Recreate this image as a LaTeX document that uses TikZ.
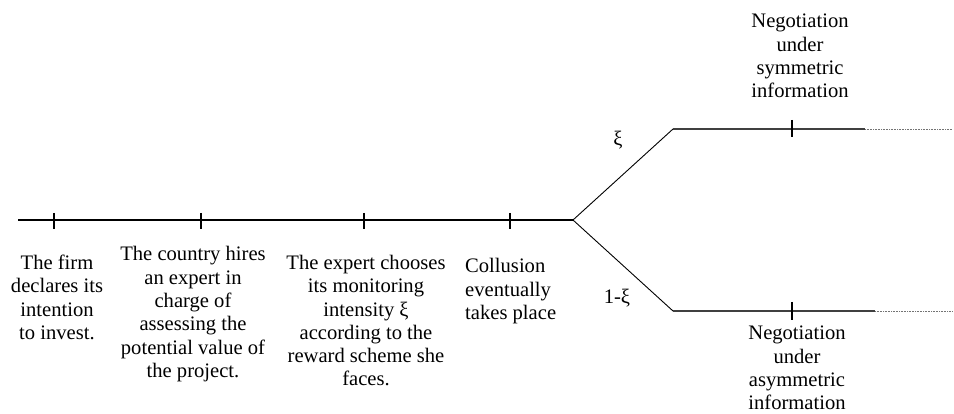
\documentclass[tikz,border=0pt]{standalone}
\usepackage{fontspec}
\setmainfont{Liberation Serif}
\usetikzlibrary{positioning}

\begin{document}
\begin{tikzpicture}[
  x=1pt, y=-1pt,
  font=\fontsize{20.6}{23.3}\selectfont,
  event/.style={
    align=center,
    inner sep=0pt,
    anchor=north
  },
  prob/.style={inner sep=0pt},
  timeline/.style={line width=1.1pt},
  branch/.style={line width=0.9pt},
  stage/.style={line width=1.6pt, black!75},
  tail/.style={line width=0.7pt, black!55, dash pattern=on 0.8pt off 0.8pt},
  tickmark/.style={line width=1.1pt}
]
\useasboundingbox (0,0) rectangle (954,414);

% time line
\coordinate (start) at (18,220);
\coordinate (t1) at (54,220);
\coordinate (t2) at (201,220);
\coordinate (t3) at (364,220);
\coordinate (t4) at (510,220);
\coordinate (fork) at (573,220);

% the two branches
\coordinate (hi) at (673,129);
\coordinate (hitick) at (792,129);
\coordinate (hiend) at (865,129);
\coordinate (hifar) at (952,129);
\coordinate (lo) at (673,311);
\coordinate (lotick) at (792,311);
\coordinate (loend) at (875,311);
\coordinate (lofar) at (952,311);

\draw[timeline] (start) -- (fork);
\foreach \t in {t1,t2,t3,t4}
  \draw[tickmark] (\t) +(0,-7) -- +(0,9);

\draw[branch] (fork) -- (hi);
\draw[branch] (fork) -- (lo);
\draw[stage] (hi) -- (hiend);
\draw[tail] (hiend) -- (hifar);
\draw[stage] (lo) -- (loend);
\draw[tail] (loend) -- (lofar);
\draw[tickmark] (hitick) +(0,-9) -- +(0,8);
\draw[tickmark] (lotick) +(0,-9) -- +(0,9);

\node[event] (firm) at (57,254.8) {The firm\\declares its\\intention\\to invest.};
\node[event] (hire) at (193,246.5) {The country hires\\an expert in\\charge of\\assessing the\\potential value of\\the project.};
\node[event] (monitor) at (366,255) {The expert chooses\\its monitoring\\intensity ξ\\according to the\\reward scheme she\\faces.};
\node[event, align=left, anchor=north west] (collusion) at (465,258.5) {Collusion\\eventually\\takes place};

\node[prob] (p) at (618,140) {ξ};
\node[prob] (q) at (617,298) {1-ξ};

\node[event] (sym) at (800,13.9) {Negotiation\\under\\symmetric\\information};
\node[event] (asym) at (797,326) {Negotiation\\under\\asymmetric\\information};

\end{tikzpicture}
\end{document}
